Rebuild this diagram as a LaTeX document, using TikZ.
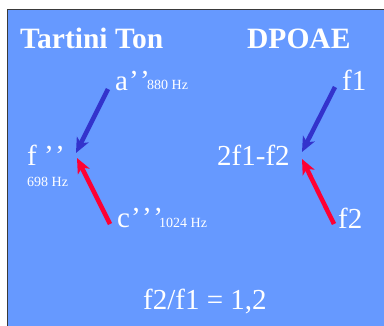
\documentclass[tikz,border=0pt]{standalone}
\usepackage{fontspec}
\setmainfont{Liberation Serif}
\usetikzlibrary{arrows.meta}
\definecolor{bg}{HTML}{6699FF}
\definecolor{frame}{HTML}{3A3A3A}
\definecolor{arrblue}{HTML}{3333CC}
\definecolor{arrred}{HTML}{FF0033}
\newcommand{\qk}{’\kern1.5pt}
\tikzset{
  lbl/.style={inner sep=0pt, anchor=base west, text=white, font=\fontsize{29}{31}\selectfont},
  small/.style={inner sep=0pt, anchor=base west, text=white, font=\fontsize{14}{16}\selectfont},
  ttl/.style={inner sep=0pt, anchor=base west, text=white, font=\fontsize{29.5}{32}\selectfont\bfseries},
  arr/.style={line width=4.5pt, -{Stealth[length=15pt,width=13pt,inset=4pt]}},
}
\begin{document}
\begin{tikzpicture}[x=1pt,y=-1pt]
\useasboundingbox (0,0) rectangle (384,325);
\begin{scope}
\clip (0,0) rectangle (384,325);
\fill[bg] (7.5,9.5) rectangle (400,340);
\draw[frame, line width=1.5pt] (7.5,340) -- (7.5,9.5) -- (400,9.5);
\end{scope}
\node[ttl] (t1) at (20,48) {Tartini Ton};
\node[ttl] (t2) at (247,48) {DPOAE};
\node[lbl] (a) at (115,90) {a\kern1pt\qk’};
\node[small] (aHz) at (147,89) {880 Hz};
\node[lbl] (f) at (27,165) {f \qk’};
\node[small] (fHz) at (27,186) {698 Hz};
\node[lbl] (c) at (117,227) {c\kern1pt\qk\qk’};
\node[small] (cHz) at (159,227) {1024 Hz};
\node[lbl] (dp) at (217,165) {2f1-f2};
\node[lbl] (f1) at (342,90) {f1};
\node[lbl] (f2) at (338,228) {f2};
\node[lbl] (ratio) at (143,309) {f2/f1 = 1,2};
\coordinate (aS) at (108,89);
\coordinate (fA) at (76,153);
\coordinate (cS) at (110,224);
\coordinate (fB) at (77,158);
\coordinate (f1S) at (335,87);
\coordinate (dA) at (302,152);
\coordinate (f2S) at (334,224);
\coordinate (dB) at (302,159);
\draw[arr, arrblue] (aS) -- (fA);
\draw[arr, arrred] (cS) -- (fB);
\draw[arr, arrblue] (f1S) -- (dA);
\draw[arr, arrred] (f2S) -- (dB);
\end{tikzpicture}
\end{document}
